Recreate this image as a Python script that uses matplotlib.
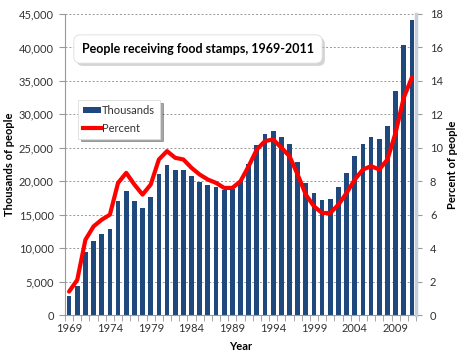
import numpy as np
import matplotlib
matplotlib.use("Agg")
from matplotlib import pyplot as plt, ticker
from matplotlib import patheffects
from matplotlib.patches import Patch
from matplotlib.lines import Line2D

plt.rcParams['font.family'] = ['Lato', 'DejaVu Sans']

years = list(range(1969, 2012))
thousands = [2878, 4340, 9368, 11109, 12166, 12862, 17064, 18549, 17077, 16001,
             17653, 21082, 22430, 21717, 21625, 20854, 19899, 19429, 19113, 18645,
             18806, 20049, 22625, 25407, 26987, 27474, 26619, 25543, 22858, 19791,
             18183, 17194, 17318, 19096, 21250, 23811, 25628, 26549, 26316, 28223,
             33490, 40302, 44100]
percent = [1.4, 2.1, 4.5, 5.3, 5.7, 6.0, 7.9, 8.5, 7.8, 7.2,
           7.8, 9.3, 9.8, 9.4, 9.3, 8.8, 8.4, 8.1, 7.9, 7.6,
           7.6, 8.0, 8.9, 9.9, 10.4, 10.5, 10.0, 9.5, 8.4, 7.2,
           6.5, 6.1, 6.1, 6.6, 7.3, 8.1, 8.7, 8.9, 8.7, 9.3,
           10.9, 13.0, 14.2]

BAR_COLOR = '#1F497D'
LINE_COLOR = '#FF0000'
TEXT_COLOR = '#333333'

fig = plt.figure(figsize=(4.6, 3.63), dpi=100)
ax = fig.add_axes([65/460, 48/363, 351/460, 301/363])
x = np.arange(len(years))

ax.bar(x, thousands, width=0.58, color=BAR_COLOR, zorder=2)
ax.set_xlim(-0.5, len(years) - 0.5)
ax.set_ylim(0, 45000)
ax.yaxis.set_major_locator(ticker.MultipleLocator(5000))
ax.yaxis.set_major_formatter(ticker.FuncFormatter(lambda v, p: f"{int(v):,}"))
ax.grid(axis='y', color='#999999', linestyle=(0, (2, 2)), linewidth=0.7, zorder=0)
ax.set_axisbelow(True)

ax.set_xticks(x[::5])
ax.set_xticklabels([str(y) for y in years[::5]])
ax.set_xticks(np.arange(-0.5, len(years), 1), minor=True)
ax.tick_params(axis='x', which='major', length=0, pad=6, labelsize=8, colors=TEXT_COLOR)
ax.tick_params(axis='x', which='minor', length=4, color='#999999')
ax.tick_params(axis='y', length=4, color='#999999', labelsize=8, labelcolor=TEXT_COLOR, pad=4)

for s in ['top', 'right']:
    ax.spines[s].set_visible(False)
for s in ['left', 'bottom']:
    ax.spines[s].set_color('#999999')

ax.set_ylabel("Thousands of people", fontsize=8, fontweight='bold', color='black')
ax.yaxis.set_label_coords((15 - 65) / 351, 0.5)
ax.set_xlabel("Year", fontsize=8, fontweight='bold', color='black', labelpad=5)

ax2 = ax.twinx()
ax2.plot(x, percent, color=LINE_COLOR, linewidth=3, solid_joinstyle='round',
         solid_capstyle='round', zorder=3)
ax2.set_ylim(0, 18)
ax2.yaxis.set_major_locator(ticker.MultipleLocator(2))
ax2.tick_params(axis='y', length=4, color='#999999', labelsize=8, labelcolor=TEXT_COLOR, pad=6)
for s in ['top', 'left', 'bottom']:
    ax2.spines[s].set_visible(False)
ax2.spines['right'].set_color('#C5CEDB')
ax2.spines['right'].set_linewidth(2.5)
ax2.set_ylabel("Percent of people", fontsize=8, fontweight='bold', color='black')
ax2.yaxis.set_label_coords((447 - 65) / 351, 0.5)

# title box with shadow
title = "People receiving food stamps, 1969-2011"
ttl = fig.text(198/460, 1 - 49/363, title, ha='center', va='center',
               fontsize=9, fontweight='bold', color='black',
               bbox=dict(boxstyle='round,pad=0.65,rounding_size=0.5', facecolor='white',
                         edgecolor='#DDDDDD', linewidth=0.6))
ttl.get_bbox_patch().set_path_effects(
    [patheffects.SimplePatchShadow(offset=(2, -2), shadow_rgbFace='#AAAAAA', alpha=0.5),
     patheffects.Normal()])

handles = [Patch(facecolor=BAR_COLOR, edgecolor='none'),
           Line2D([0], [0], color=LINE_COLOR, linewidth=3)]
leg = ax2.legend(handles, ["Thousands", "Percent"], loc='upper left',
                 bbox_to_anchor=(78/460, 1 - 100/363), bbox_transform=fig.transFigure,
                 fontsize=8, frameon=True, fancybox=False, shadow=True,
                 handlelength=1.6, handleheight=0.5, handletextpad=0.1,
                 borderpad=0.45, labelspacing=0.6, borderaxespad=0)
leg.get_frame().set_edgecolor('#DDDDDD')
leg.get_frame().set_linewidth(0.6)
for t in leg.get_texts():
    t.set_color(TEXT_COLOR)

fig.savefig("out.png", dpi=100)
